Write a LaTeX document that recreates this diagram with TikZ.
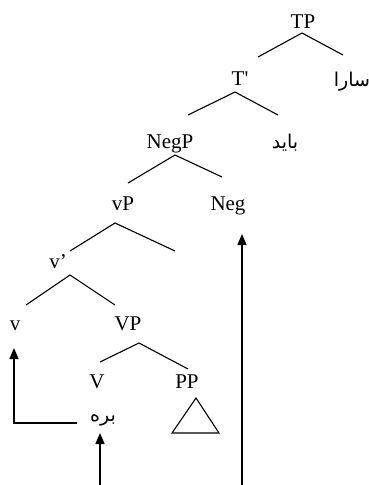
\documentclass[tikz,border=0pt]{standalone}
\usepackage{fontspec}
\setmainfont{Liberation Serif}
\newfontfamily\farsi[Script=Arabic]{DejaVu Sans}
\TeXXeTstate=1
\usetikzlibrary{arrows.meta}
\begin{document}
\begin{tikzpicture}[x=1pt,y=-1pt,
  lbl/.style={anchor=base,inner sep=0pt,font=\fontsize{21}{23}\selectfont},
  fa/.style={anchor=base,inner sep=0pt,font=\farsi\fontsize{19}{21}\selectfont},
  branch/.style={line width=1.1pt},
  move/.style={line width=1.5pt,-{Triangle[length=11pt,width=9pt]}}]
\useasboundingbox (0,0) rectangle (369,485);

% labels
\node[lbl] (TP)   at (303,28)  {TP};
\node[lbl] (Tbar) at (240,85)  {T\textquotesingle};
\node[fa]  (sara) at (352,86)  {\beginR سارا\endR};
\node[lbl] (NegP) at (170,148) {NegP};
\node[fa]  (bayad) at (285,148) {\beginR باید\endR};
\node[lbl] (vP)   at (123,210) {vP};
\node[lbl] (Neg)  at (228,210) {Neg};
\node[lbl] (vbar) at (58,268)  {v’};
\node[lbl] (v)    at (15,330)  {v};
\node[lbl] (VP)   at (128,330) {VP};
\node[lbl] (V)    at (97,388)  {V};
\node[lbl] (PP)   at (187,388) {PP};
\node[fa]  (bere) at (103,421) {\beginR بره\endR};

% branch apexes and ends
\coordinate (tpA) at (302,33);  \coordinate (tpL) at (258,57);  \coordinate (tpR) at (343,55);
\coordinate (tbA) at (235,92);  \coordinate (tbL) at (188,115); \coordinate (tbR) at (278,115);
\coordinate (npA) at (175,155); \coordinate (npL) at (128,183); \coordinate (npR) at (222,177);
\coordinate (vpA) at (115,223); \coordinate (vpL) at (70,251);  \coordinate (vpR) at (175,251);
\coordinate (vbA) at (70,275);  \coordinate (vbL) at (26,305);  \coordinate (vbR) at (115,305);
\coordinate (VPA) at (139,343); \coordinate (VPL) at (100,362); \coordinate (VPR) at (188,369);

\foreach \n in {tp,tb,np,vp,vb,VP}
  \draw[branch] (\n L) -- (\n A) -- (\n R);

% PP triangle
\coordinate (triT) at (196,398);
\coordinate (triL) at (172,433);
\coordinate (triR) at (219,433);
\draw[branch] (triT) -- (triL) -- (triR) -- cycle;

% movement arrows
\coordinate (negFoot) at (242,485);
\coordinate (negTip)  at (242,234);
\draw[move] (negFoot) -- (negTip);

\coordinate (bereFoot) at (100,485);
\coordinate (bereTip)  at (100,433);
\draw[move] (bereFoot) -- (bereTip);

\coordinate (hopStart) at (77,423);
\coordinate (hopTip)   at (14,348);
\draw[move] (hopStart) -| (hopTip);
\end{tikzpicture}
\end{document}
